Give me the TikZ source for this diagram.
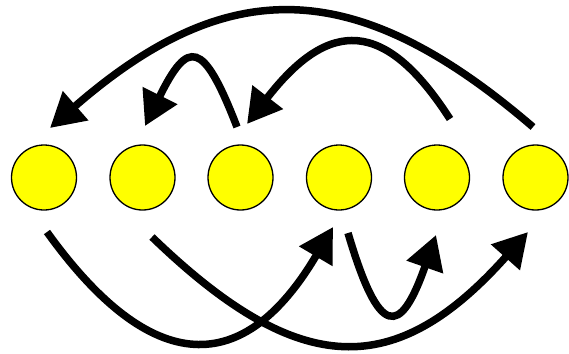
\documentclass[tikz,border=0pt]{standalone}
\usetikzlibrary{arrows.meta,calc}
\definecolor{ballyellow}{RGB}{255,255,0}
\tikzset{
  ball/.style={circle,draw=black,line width=1.3pt,fill=ballyellow,minimum size=65pt,inner sep=0pt},
  jump/.style={line width=7.5pt,-{Triangle[length=34pt,width=37pt]}}
}
\begin{document}
\begin{tikzpicture}[x=1pt,y=-1pt]
\useasboundingbox (0,0) rectangle (569,353);
\node[ball] (c1) at (44,177.5) {};
\node[ball] (c2) at (142.5,177.5) {};
\node[ball] (c3) at (240.5,177.5) {};
\node[ball] (c4) at (339,177.5) {};
\node[ball] (c5) at (437,177.5) {};
\node[ball] (c6) at (535.5,177.5) {};
% top arrows
\draw[jump] ($(c6)+(-2.5,-50.5)$) .. controls (355,-26) and (227,-26) .. ($(c1)+(6,-49.5)$);
\draw[jump] ($(c5)+(13,-58.5)$) .. controls (385,18) and (329,18) .. ($(c3)+(6.5,-53.5)$);
\draw[jump] ($(c3)+(-3.5,-50.5)$) .. controls (203,39) and (188,39) .. ($(c2)+(2.5,-51.5)$);
% bottom arrows
\draw[jump] ($(c1)+(3,54.5)$) .. controls (152,378) and (244,378) .. ($(c4)+(-6,49.5)$);
\draw[jump] ($(c2)+(9.5,59.5)$) .. controls (300,380) and (396,380) .. ($(c6)+(-7.5,54.5)$);
\draw[jump] ($(c4)+(9,55.5)$) .. controls (379,338) and (400,338) .. ($(c5)+(-1,57.5)$);
\end{tikzpicture}
\end{document}
